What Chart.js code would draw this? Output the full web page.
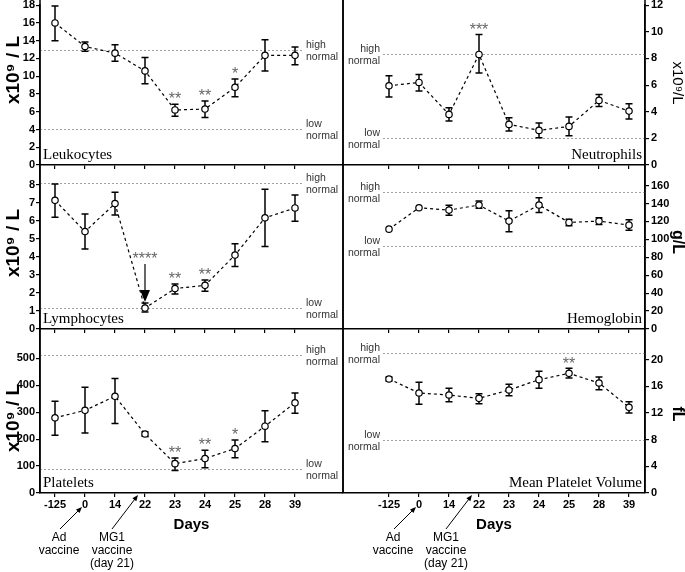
<!DOCTYPE html>
<html lang="en">
<head>
<meta charset="UTF-8">
<title>Blood counts after Ad / MG1 vaccination</title>
<script src="https://cdn.jsdelivr.net/npm/chart.js"></script>
<style>
  body { margin: 0; background: #fff; }
  #wrap { position: relative; width: 685px; height: 572px; }
  #wrap canvas { position: absolute; left: 0; top: 0; }
</style>
</head>
<body>
<div id="wrap">
  <canvas id="leuko" width="685" height="572"></canvas>
  <canvas id="neutro" width="685" height="572"></canvas>
  <canvas id="lympho" width="685" height="572"></canvas>
  <canvas id="hemo" width="685" height="572"></canvas>
  <canvas id="plt" width="685" height="572"></canvas>
  <canvas id="mpv" width="685" height="572"></canvas>
</div>
<script>
// x categories (days)
const days = ['-125', '0', '14', '22', '23', '24', '25', '28', '39'];

// Leukocytes x10^9/L
const leukoMean = [16.0, 13.35, 12.6, 10.6, 6.2, 6.3, 8.75, 12.35, 12.35];
const leukoLow  = [14.0, 12.8, 11.7, 9.15, 5.5, 5.35, 7.7, 10.6, 11.3];
const leukoHigh = [17.9, 13.85, 13.55, 12.1, 6.85, 7.2, 9.7, 14.1, 13.3];
const leukoStars = ['', '', '', '', '**', '**', '*', '', ''];
const leukoNormal = [4.1, 13];

// Neutrophils x10^9/L
const neutroMean = [5.95, 6.2, 3.8, 8.3, 3.05, 2.6, 2.9, 4.85, 4.05];
const neutroLow  = [5.1, 5.55, 3.3, 6.9, 2.55, 2.05, 2.2, 4.4, 3.45];
const neutroHigh = [6.7, 6.8, 4.3, 9.8, 3.55, 3.15, 3.6, 5.3, 4.6];
const neutroStars = ['', '', '', '***', '', '', '', '', ''];
const neutroNormal = [2.05, 8.3];

// Lymphocytes x10^9/L
const lymphoMean = [7.13, 5.4, 6.95, 1.16, 2.24, 2.42, 4.1, 6.16, 6.71];
const lymphoLow  = [6.19, 4.44, 6.32, 0.94, 1.94, 2.09, 3.47, 4.57, 5.97];
const lymphoHigh = [8.04, 6.38, 7.58, 1.44, 2.5, 2.72, 4.73, 7.75, 7.43];
const lymphoStars = ['', '', '', '****', '**', '**', '', '', ''];
const lymphoNormal = [1.15, 8.1];

// Hemoglobin g/L
const hemoMean = [111.4, 135.3, 132.7, 138.3, 120.4, 138.3, 118.9, 120.4, 115.9];
const hemoLow  = [111.4, 135.3, 127, 134.6, 108.4, 130, 115.1, 116.6, 110.3];
const hemoHigh = [111.4, 135.3, 138, 142.8, 132, 146.5, 122.6, 124, 121.9];
const hemoStars = ['', '', '', '', '', '', '', '', ''];
const hemoNormal = [92.7, 152.5];

// Platelets x10^9/L
const pltMean = [279, 307, 359, 219, 109, 128, 165, 248, 335];
const pltLow  = [214, 223, 258, 211, 84, 94, 131, 190, 296];
const pltHigh = [341, 393, 425, 227, 130, 159, 197, 305, 371];
const pltStars = ['', '', '', '', '**', '**', '*', '', ''];
const pltNormal = [90, 514];

// Mean platelet volume fL
const mpvMean = [17.1, 15.0, 14.7, 14.2, 15.45, 17.0, 17.95, 16.5, 12.85];
const mpvLow  = [16.8, 13.3, 13.7, 13.4, 14.6, 15.7, 17.25, 15.5, 12.0];
const mpvHigh = [17.4, 16.6, 15.7, 14.9, 16.3, 18.25, 18.7, 17.4, 13.7];
const mpvStars = ['', '', '', '', '', '', '**', '', ''];
const mpvNormal = [8, 21];

const SANS = '"Liberation Sans", Arial, sans-serif';
const SERIF = '"Liberation Serif", "Times New Roman", serif';
const W = 685, H = 572;

// panel boxes on the page: [left, right, xmin, xmax] and [top, bottom]
const cols = { left: [40, 343, -0.5, 9.6], right: [343, 645, -1.533, 8.533] };
const rows = { top: [5, 165], mid: [165, 329], bot: [329, 493] };
const X_LABEL_H = 20;

function arrow(ctx, x0, y0, x1, y1, head, half) {
  const ang = Math.atan2(y1 - y0, x1 - x0);
  const c = Math.cos(ang), s = Math.sin(ang);
  ctx.beginPath();
  ctx.moveTo(x0, y0);
  ctx.lineTo(x1 - c * head * 0.8, y1 - s * head * 0.8);
  ctx.stroke();
  ctx.beginPath();
  ctx.moveTo(x1, y1);
  ctx.lineTo(x1 - c * head - s * half, y1 - s * head + c * half);
  ctx.lineTo(x1 - c * head + s * half, y1 - s * head - c * half);
  ctx.closePath();
  ctx.fill();
}

const panelDecor = {
  id: 'panelDecor',
  beforeDatasetsDraw(chart, args, o) {
    const { ctx, chartArea: a, scales: { x, y } } = chart;
    const ds = chart.data.datasets[0];
    const left = o.side === 'left';
    ctx.save();
    // normal range lines + labels
    ctx.strokeStyle = '#a0a0a0';
    ctx.lineWidth = 1;
    ctx.setLineDash([2, 2]);
    ctx.font = '10.5px ' + SANS;
    ctx.fillStyle = '#333';
    ctx.textBaseline = 'middle';
    ctx.textAlign = left ? 'left' : 'right';
    const lx0 = left ? a.left : a.left + 40;
    const lx1 = left ? a.right - 40 : a.right;
    const tx = left ? a.right - 37 : a.left + 37;
    [['high', o.normal[1]], ['low', o.normal[0]]].forEach(([word, v]) => {
      const py = Math.round(y.getPixelForValue(v)) + 0.5;
      ctx.beginPath();
      ctx.moveTo(lx0, py);
      ctx.lineTo(lx1, py);
      ctx.stroke();
      ctx.fillText(word, tx, py - 5);
      ctx.fillText('normal', tx, py + 7);
    });
    // error bars
    ctx.setLineDash([]);
    ctx.strokeStyle = '#000';
    ctx.lineWidth = 1.5;
    ds.data.forEach((p, i) => {
      const px = x.getPixelForValue(p.x);
      const top = y.getPixelForValue(ds.errHigh[i]);
      const bot = y.getPixelForValue(ds.errLow[i]);
      if (bot - top < 3) return;
      ctx.beginPath();
      ctx.moveTo(px, top); ctx.lineTo(px, bot);
      ctx.moveTo(px - 3.5, top); ctx.lineTo(px + 3.5, top);
      ctx.moveTo(px - 3.5, bot); ctx.lineTo(px + 3.5, bot);
      ctx.stroke();
    });
    ctx.restore();
  },
  afterDatasetsDraw(chart, args, o) {
    const { ctx, scales: { x, y } } = chart;
    const ds = chart.data.datasets[0];
    ctx.save();
    ctx.font = '16px ' + SANS;
    ctx.textAlign = 'center';
    ctx.textBaseline = 'alphabetic';
    ds.stars.forEach((s, i) => {
      if (!s) return;
      const px = x.getPixelForValue(i);
      const top = y.getPixelForValue(ds.errHigh[i]);
      let cy = top - 9;
      if (i === o.arrowAt) {
        ctx.strokeStyle = '#000';
        ctx.fillStyle = '#000';
        ctx.lineWidth = 1.2;
        arrow(ctx, px, top - 39, px, top - 1, 12, 5);
        cy = top - 48;
      }
      ctx.fillStyle = '#666';
      ctx.fillText(s, px, cy + 0.58 * 16);
    });
    ctx.restore();
  },
  afterDraw(chart, args, o) {
    const { ctx, chartArea: a, scales: { x } } = chart;
    const left = o.side === 'left';
    ctx.save();
    // frame
    ctx.strokeStyle = '#000';
    ctx.lineWidth = 1.5;
    ctx.beginPath();
    ctx.moveTo(a.left, o.frameTop); ctx.lineTo(a.left, a.bottom);
    ctx.moveTo(a.right, o.frameTop); ctx.lineTo(a.right, a.bottom);
    ctx.stroke();
    // panel name
    ctx.fillStyle = '#000';
    ctx.font = '15px ' + SERIF;
    ctx.textBaseline = 'alphabetic';
    ctx.textAlign = left ? 'left' : 'right';
    ctx.fillText(o.name, left ? a.left + 3 : a.right - 3, a.bottom - 6);
    // axis title
    ctx.save();
    ctx.translate(o.titleX, o.titleY);
    ctx.rotate(left ? -Math.PI / 2 : Math.PI / 2);
    ctx.font = o.titleFont;
    ctx.textAlign = 'center';
    ctx.textBaseline = 'middle';
    ctx.fillText(o.title, 0, 0);
    ctx.restore();
    // x axis title and vaccine notes
    if (o.days) {
      ctx.font = 'bold 15px ' + SANS;
      ctx.textAlign = 'center';
      ctx.textBaseline = 'middle';
      ctx.fillText('Days', (a.left + a.right) / 2, a.bottom + 32);
      const ad = x.getPixelForValue(1) - 3;
      const mg = x.getPixelForValue(3) - 7;
      ctx.lineWidth = 1;
      arrow(ctx, ad - 22, a.bottom + 36, ad, a.bottom + 14, 6, 2.5);
      arrow(ctx, mg - 26, a.bottom + 36, mg, a.bottom + 2, 6, 2.5);
      ctx.font = '12px ' + SANS;
      ['Ad', 'vaccine'].forEach((t, k) => ctx.fillText(t, ad - 23, a.bottom + 45 + k * 13));
      ['MG1', 'vaccine', '(day 21)'].forEach((t, k) => ctx.fillText(t, mg - 26, a.bottom + 45 + k * 13));
    }
    ctx.restore();
  }
};

// give each scale a fixed size so the plot areas line up across panels
function fixSize(size) {
  return s => {
    if (s.isHorizontal()) s.height = size; else s.width = size;
    s.paddingTop = s.paddingBottom = s.paddingLeft = s.paddingRight = 0;
  };
}

const tickFont = { family: SANS, size: 11, weight: 'bold' };
const gridOpts = { display: true, drawOnChartArea: false, drawTicks: true, tickLength: 4, color: '#000', lineWidth: 1.2 };
const borderOpts = { display: true, color: '#000', width: 1.5 };

function makePanel(id, p) {
  const [x0, x1, xmin, xmax] = cols[p.col];
  const [y0, y1] = rows[p.row];
  const side = p.col;
  const bottomRow = p.row === 'bot';
  const yW = side === 'left' ? x0 : W - x1;
  const xH = bottomRow ? X_LABEL_H : 0;
  return new Chart(document.getElementById(id), {
    type: 'line',
    data: {
      datasets: [{
        data: p.mean.map((v, i) => ({ x: i, y: v })),
        errLow: p.low,
        errHigh: p.high,
        stars: p.stars,
        borderColor: '#000',
        borderWidth: 1.2,
        borderDash: [3, 3],
        pointRadius: 3.2,
        pointBorderWidth: 1.2,
        pointBackgroundColor: '#fff',
        pointBorderColor: '#000',
        tension: 0,
        fill: false
      }]
    },
    options: {
      responsive: false,
      animation: false,
      devicePixelRatio: 1,
      layout: {
        padding: {
          left: side === 'left' ? 0 : x0,
          right: side === 'left' ? W - x1 : 0,
          top: y0,
          bottom: H - y1 - xH
        }
      },
      plugins: {
        legend: { display: false },
        tooltip: { enabled: false },
        panelDecor: {
          side: side,
          name: p.name,
          normal: p.normal,
          arrowAt: p.arrowAt === undefined ? -1 : p.arrowAt,
          title: p.title,
          titleFont: p.titleFont,
          titleX: side === 'left' ? 14 : 677,
          titleY: p.titleY,
          frameTop: p.row === 'top' ? 0 : y0,
          days: bottomRow
        }
      },
      scales: {
        x: {
          type: 'linear',
          bounds: 'data',
          min: xmin,
          max: xmax,
          afterBuildTicks: s => { s.ticks = days.map((d, i) => ({ value: i })); },
          afterFit: fixSize(xH),
          ticks: {
            display: bottomRow,
            callback: (v, i) => days[i],
            font: tickFont,
            color: '#000',
            padding: 1,
            maxRotation: 0,
            autoSkip: false
          },
          grid: gridOpts,
          border: borderOpts
        },
        y: {
          type: 'linear',
          position: side,
          bounds: 'data',
          min: 0,
          max: p.yMax,
          afterBuildTicks: s => {
            const t = [];
            for (let v = 0; v <= p.tickMax + 1e-9; v += p.step) t.push({ value: v });
            s.ticks = t;
          },
          afterFit: fixSize(yW),
          ticks: { font: tickFont, color: '#000', padding: side === 'left' ? 1 : 2, autoSkip: false },
          grid: gridOpts,
          border: borderOpts
        }
      }
    },
    plugins: [panelDecor]
  });
}

const leftTitle = 'bold 19px ' + SANS;

makePanel('leuko', { col: 'left', row: 'top', name: 'Leukocytes', mean: leukoMean, low: leukoLow, high: leukoHigh,
  stars: leukoStars, normal: leukoNormal, yMax: 18, tickMax: 18, step: 2,
  title: 'x10⁹ / L', titleFont: leftTitle, titleY: 70 });
makePanel('neutro', { col: 'right', row: 'top', name: 'Neutrophils', mean: neutroMean, low: neutroLow, high: neutroHigh,
  stars: neutroStars, normal: neutroNormal, yMax: 12, tickMax: 12, step: 2,
  title: 'x10⁹/L', titleFont: '15px ' + SANS, titleY: 83 });
makePanel('lympho', { col: 'left', row: 'mid', name: 'Lymphocytes', mean: lymphoMean, low: lymphoLow, high: lymphoHigh,
  stars: lymphoStars, normal: lymphoNormal, yMax: 9.09, tickMax: 8, step: 1, arrowAt: 3,
  title: 'x10⁹ / L', titleFont: leftTitle, titleY: 243 });
makePanel('hemo', { col: 'right', row: 'mid', name: 'Hemoglobin', mean: hemoMean, low: hemoLow, high: hemoHigh,
  stars: hemoStars, normal: hemoNormal, yMax: 183, tickMax: 160, step: 20,
  title: 'g/L', titleFont: 'bold 16px ' + SANS, titleY: 242 });
makePanel('plt', { col: 'left', row: 'bot', name: 'Platelets', mean: pltMean, low: pltLow, high: pltHigh,
  stars: pltStars, normal: pltNormal, yMax: 609, tickMax: 500, step: 100,
  title: 'x10⁹ / L', titleFont: leftTitle, titleY: 418 });
makePanel('mpv', { col: 'right', row: 'bot', name: 'Mean Platelet Volume', mean: mpvMean, low: mpvLow, high: mpvHigh,
  stars: mpvStars, normal: mpvNormal, yMax: 24.6, tickMax: 20, step: 4,
  title: 'fL', titleFont: 'bold 16px ' + SANS, titleY: 414 });
</script>
</body>
</html>
